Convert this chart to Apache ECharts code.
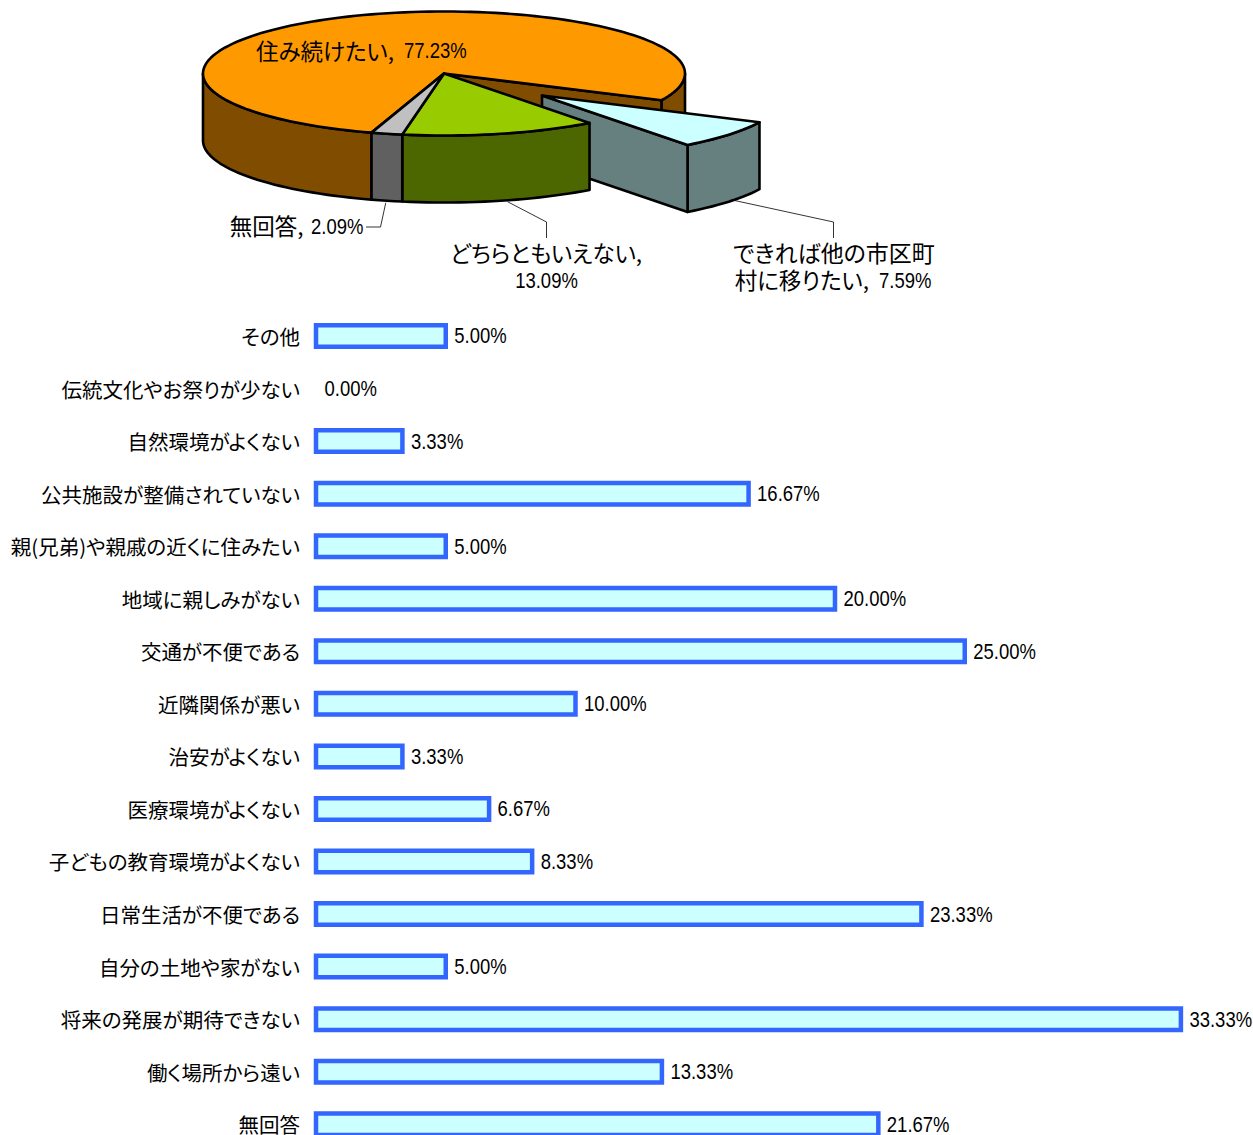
<!DOCTYPE html>
<html><head><meta charset="utf-8">
<style>html,body{margin:0;padding:0;background:#fff;overflow:hidden}#c{width:1253px;height:1135px}
svg text{font-feature-settings:"palt" 1 !important}</style>
<script src="https://cdn.jsdelivr.net/npm/echarts@6/dist/echarts.min.js"></script>
</head><body><div id="c"></div>
<script>
// --- data ---
const pieNames = ['住み続けたい', 'できれば他の市区町村に移りたい', 'どちらともいえない', '無回答'];
const pieValues = [77.23, 7.59, 13.09, 2.09];
const barCategories = ['その他','伝統文化やお祭りが少ない','自然環境がよくない','公共施設が整備されていない','親(兄弟)や親戚の近くに住みたい','地域に親しみがない','交通が不便である','近隣関係が悪い','治安がよくない','医療環境がよくない','子どもの教育環境がよくない','日常生活が不便である','自分の土地や家がない','将来の発展が期待できない','働く場所から遠い','無回答'];
const barValues = [5.00,0.00,3.33,16.67,5.00,20.00,25.00,10.00,3.33,6.67,8.33,23.33,5.00,33.33,13.33,21.67];

// --- style ---
const CJK = '"Noto Sans CJK JP","Noto Sans",sans-serif';
const NUM = '"Liberation Sans",sans-serif';
const pieTop = ['#FF9900','#CCFFFF','#99CC00','#C0C0C0'];
const pieSide = ['#804C00','#668080','#4C6600','#606060'];
const PIE = {cx:444, cy:73.5, rx:241, ry:62, depth:67, startDeg:197.5, stroke:2.6};
const explode = [null,{dx:98,dy:22},null,null];
const BAR = {height:21.5, stroke:4.5, labelGap:8.5};
const pieLabels = [
  {cjk:[['住み続けたい,',394,49.5,'right',22.5]],num:[404,50.5,'left'],leader:null},
  {cjk:[['できれば他の市区町',834,251.5,'center',23],['村に移りたい,',869,278.5,'right',22.5]],num:[879,280,'left'],leader:[[833.5,222],[833.5,238]],off:[2,-2]},
  {cjk:[['どちらともいえない,',546,251.5,'center',22.5]],num:[546.5,280,'center'],leader:[[546.5,222],[546.5,238]],off:[7,1]},
  {cjk:[['無回答,',303.5,225,'right',22.5]],num:[311,226.5,'left'],leader:[[380.5,227],[366,227]],off:[-1,2]}
];
const rad = d => d*Math.PI/180;
const fmt = v => v.toFixed(2)+'%';
const numFont = 'normal 21.5px '+NUM, NUM_SCALE = 0.86;
const numText = (v,x,y,align,z2)=>({type:'text',x,y,scaleX:NUM_SCALE,z2:z2||1,
  style:{text:fmt(v),x:0,y:0,align,verticalAlign:'middle',font:numFont,fill:'#000'}});

function renderSlice(params, api){
  const i = params.dataIndex, v = api.value(0);
  let sum = 0; for (let k=0;k<i;k++) sum += pieValues[k];
  const t0 = PIE.startDeg + sum*3.6, t1 = t0 + v*3.6;
  const ex = explode[i]||{dx:0,dy:0};
  const n = pieValues.length;
  const cx = PIE.cx+ex.dx, cy = PIE.cy+ex.dy;
  const pt = (t,d=0)=>[cx+PIE.rx*Math.sin(rad(t)), cy-PIE.ry*Math.cos(rad(t))+d];
  const arc = (a,b,d=0)=>{const m=Math.max(2,Math.ceil(Math.abs(b-a)/2)),o=[];for(let j=0;j<=m;j++)o.push(pt(a+(b-a)*j/m,d));return o;};
  const st = c=>({fill:c,stroke:'#000',lineWidth:PIE.stroke,lineJoin:'round'});
  const kids = [];
  const poly = (p,c)=>kids.push({type:'polygon',shape:{points:p},style:st(c)});
  for (let base=-360;base<=720;base+=360){
    const a=Math.max(t0,base+90), b=Math.min(t1,base+270);
    if (b>a) poly(arc(a,b,0).concat(arc(b,a,PIE.depth)), pieSide[i]);
  }
  const nearEx = explode[i]||explode[(i+1)%n];
  if (nearEx && Math.sin(rad(t1))>0){
    const e=pt(t1); poly([[cx,cy],e,[e[0],e[1]+PIE.depth],[cx,cy+PIE.depth]], pieSide[i]);
  }
  poly([[cx,cy]].concat(arc(t0,t1)), pieTop[i]);
  const L = pieLabels[i];
  if (L.leader){
    const tm=(t0+t1)/2, a=pt(tm,PIE.depth), off=L.off||[0,0];
    kids.push({type:'polyline',shape:{points:[[a[0]+off[0],a[1]+off[1]]].concat(L.leader)},style:{fill:null,stroke:'#000',lineWidth:0.8}});
  }
  L.cjk.forEach(c=>kids.push({type:'text',z2:10,style:{text:c[0],x:c[1],y:c[2],align:c[3],verticalAlign:'middle',font:'normal '+c[4]+'px '+CJK,fill:'#000'}}));
  kids.push(numText(v,L.num[0],L.num[1],L.num[2],10));
  return {type:'group',children:kids};
}

function renderBar(params, api){
  const v = api.value(0), idx = api.value(1);
  const p0 = api.coord([0,idx]), p1 = api.coord([v,idx]);
  const kids = [];
  if (v>0) kids.push({type:'rect',shape:{x:p0[0],y:p0[1]-BAR.height/2,width:p1[0]-p0[0],height:BAR.height},
    style:{fill:'#CCFFFF',stroke:'#3366FF',lineWidth:BAR.stroke}});
  kids.push(numText(v,p1[0]+BAR.labelGap,p1[1],'left'));
  return {type:'group',children:kids};
}

const chart = echarts.init(document.getElementById('c'),null,{renderer:'svg',width:1253,height:1135});
chart.setOption({
  animation:false,
  backgroundColor:'#fff',
  grid:{left:316,top:309.7,width:908.25,height:840.8,outerBoundsMode:'none',containLabel:false},
  xAxis:{type:'value',min:0,max:35,show:false},
  yAxis:{type:'category',inverse:true,data:barCategories,
    axisLine:{show:false},axisTick:{show:false},
    axisLabel:{margin:16,fontSize:20.5,fontFamily:CJK,color:'#000',padding:[0,0,2,0]}},
  series:[
    {type:'custom',coordinateSystem:'cartesian2d',silent:true,clip:false,
     encode:{x:0,y:1},data:barValues.map((v,i)=>[v,i]),renderItem:renderBar},
    {type:'custom',coordinateSystem:'none',silent:true,clip:false,
     data:pieValues.map(v=>[v]),renderItem:renderSlice}
  ]
});
</script></body></html>
